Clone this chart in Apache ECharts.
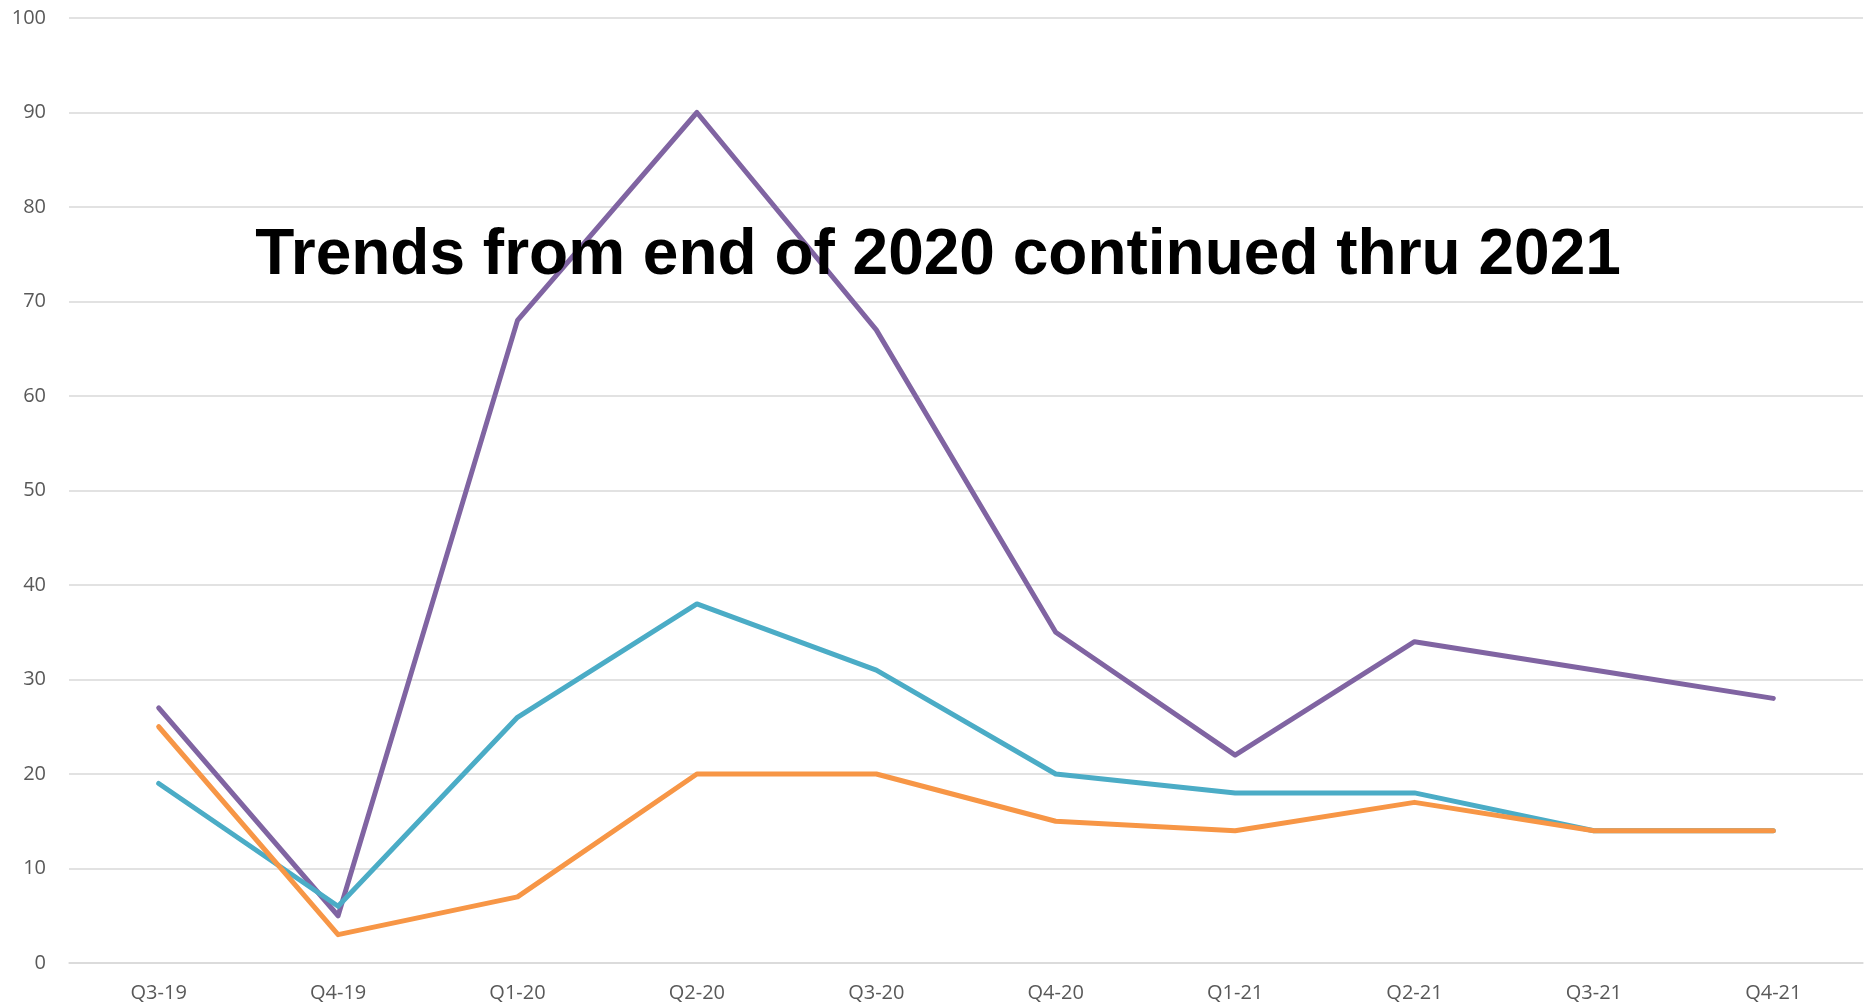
<!DOCTYPE html>
<html>
<head>
<meta charset="utf-8">
<script src="https://cdn.jsdelivr.net/npm/echarts@6/dist/echarts.min.js"></script>
<style>
html,body{margin:0;padding:0;background:#fff;}
#chart{width:1865px;height:1007px;}
</style>
</head>
<body>
<div id="chart"></div>
<script>
const categories = ['Q3-19','Q4-19','Q1-20','Q2-20','Q3-20','Q4-20','Q1-21','Q2-21','Q3-21','Q4-21'];
const purpleValues = [27, 5, 68, 90, 67, 35, 22, 34, 31, 28];
const tealValues = [19, 6, 26, 38, 31, 20, 18, 18, 14, 14];
const orangeValues = [25, 3, 7, 20, 20, 15, 14, 17, 14, 14];
const titleText = 'Trends from end of 2020 continued thru 2021';

const chart = echarts.init(document.getElementById('chart'), null, {renderer: 'canvas'});
const lineSeries = (name, data, color) => ({
  name, type: 'line', data,
  symbol: 'none',
  lineStyle: {color, width: 5, cap: 'round', join: 'round'},
  itemStyle: {color},
  animation: false
});
chart.setOption({
  animation: false,
  title: {
    text: titleText,
    left: 938,
    top: 224,
    textAlign: 'center',
    padding: 0,
    textStyle: {fontFamily: 'Liberation Sans, Arial, sans-serif', fontWeight: 'bold', fontSize: 64, color: '#000'}
  },
  grid: {left: 69, right: 2, top: 18, bottom: 44, containLabel: false},
  xAxis: {
    type: 'category',
    data: categories,
    boundaryGap: true,
    axisLine: {show: true, lineStyle: {color: '#d9d9d9', width: 1.5}},
    axisTick: {show: false},
    axisLabel: {color: '#595959', fontFamily: 'Open Sans, sans-serif', fontSize: 20, margin: 20}
  },
  yAxis: {
    type: 'value',
    min: 0, max: 100, interval: 10,
    axisLine: {show: false},
    axisTick: {show: false},
    axisLabel: {color: '#595959', fontFamily: 'Open Sans, sans-serif', fontSize: 20, margin: 23},
    splitLine: {lineStyle: {color: '#d9d9d9', width: 1.5}}
  },
  series: [
    lineSeries('Purple', purpleValues, '#8064A2'),
    lineSeries('Teal', tealValues, '#4BACC6'),
    lineSeries('Orange', orangeValues, '#F79646')
  ]
});
</script>
</body>
</html>
